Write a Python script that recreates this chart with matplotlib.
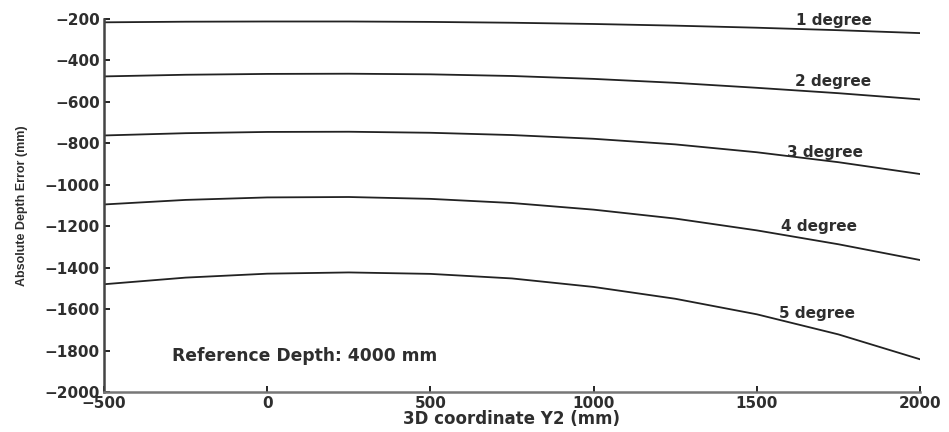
import matplotlib
matplotlib.use("Agg")
import matplotlib.pyplot as plt

plt.rcParams['font.family'] = ['DejaVu Sans']

# 3D coordinate Y2 (mm)
y2 = [-500, -250, 0, 250, 500, 750, 1000, 1250, 1500, 1750, 2000]

# absolute depth error (mm) for each tilt angle
err_1deg = [-216, -213, -212, -212, -214, -218, -224, -232, -242, -254, -268]
err_2deg = [-477, -469, -465, -464, -467, -475, -489, -508, -532, -558, -588]
err_3deg = [-762, -751, -745, -744, -749, -760, -778, -805, -843, -891, -948]
err_4deg = [-1095, -1073, -1061, -1059, -1068, -1088, -1120, -1163, -1220, -1287, -1363]
err_5deg = [-1480, -1448, -1429, -1423, -1430, -1452, -1493, -1550, -1625, -1722, -1842]

labels = ["1 degree", "2 degree", "3 degree", "4 degree", "5 degree"]
label_x = [1736, 1733, 1710, 1690, 1684]
label_y = [-205, -500, -842, -1200, -1620]

fig = plt.figure(figsize=(9.49, 4.32), dpi=100)
ax = fig.add_axes([0.1096, 0.0926, 0.8598, 0.8634])

for err in [err_1deg, err_2deg, err_3deg, err_4deg, err_5deg]:
    ax.plot(y2, err, color="#222222", lw=1.3)

tc = "#2e2e2e"
for txt, lx, ly in zip(labels, label_x, label_y):
    ax.text(lx, ly, txt, ha="center", va="center", fontsize=11,
            fontweight="bold", color=tc)

ax.text(-292, -1824, "Reference Depth: 4000 mm", ha="left", va="center",
        fontsize=12.3, fontweight="bold", color=tc)

ax.set_xlim(-500, 2000)
ax.set_ylim(-2000, -200)
ax.set_xticks([-500, 0, 500, 1000, 1500, 2000])
ax.set_yticks(range(-2000, -199, 200))
ax.set_xticklabels(["\u2212500", "0", "500", "1000", "1500", "2000"])
ax.set_yticklabels(["\u2212%d" % v for v in range(2000, 199, -200)])
for lab in ax.get_xticklabels() + ax.get_yticklabels():
    lab.set_fontweight("bold")
    lab.set_color(tc)

ax.spines["top"].set_visible(False)
ax.spines["right"].set_visible(False)
ax.spines["left"].set_linewidth(1.8)
ax.spines["bottom"].set_linewidth(1.8)
ax.spines["left"].set_color("#444444")
ax.spines["bottom"].set_color("#777777")
ax.tick_params(direction="in", length=4, width=1.2, labelsize=11, pad=3)

ax.set_xlabel("3D coordinate Y2 (mm)", fontsize=12, fontweight="bold",
              color=tc, labelpad=-1)
ax.set_ylabel("Absolute Depth Error (mm)", fontsize=9, color=tc,
              fontweight="bold", family=["Liberation Sans"], labelpad=12)

fig.savefig("out.png", dpi=100)
